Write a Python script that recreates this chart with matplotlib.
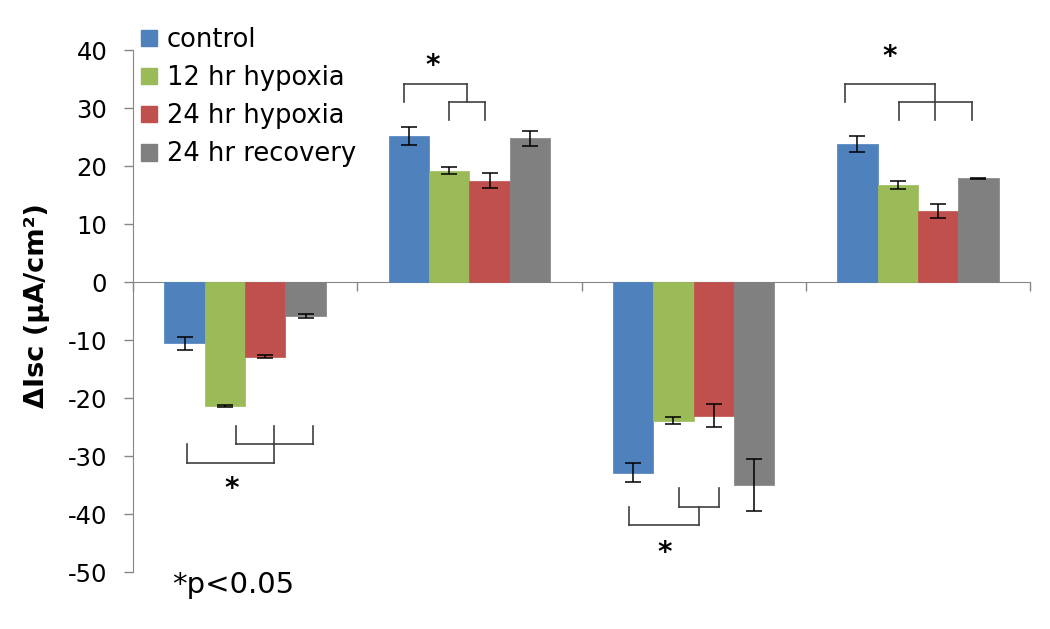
import matplotlib
matplotlib.use("Agg")
import matplotlib.pyplot as plt
import numpy as np
from matplotlib.patches import Patch

# ---------------- data ----------------
groups = ["1", "2", "3", "4"]
series = ["control", "12 hr hypoxia", "24 hr hypoxia", "24 hr recovery"]
colors = ["#4F81BD", "#9BBB59", "#C0504D", "#808080"]

control = [-10.5, 25.2, -32.8, 23.9]
hyp12 = [-21.3, 19.2, -23.9, 16.7]
hyp24 = [-12.8, 17.5, -23.0, 12.3]
recovery = [-5.8, 24.8, -35.0, 17.9]

control_err = [1.1, 1.5, 1.6, 1.4]
hyp12_err = [0.2, 0.6, 0.6, 0.7]
hyp24_err = [0.3, 1.3, 2.0, 1.2]
recovery_err = [0.3, 1.3, 4.5, 0.05]

yticks = [-50, -40, -30, -20, -10, 0, 10, 20, 30, 40]

# significance brackets:
# (x_left, x_right, y_bar, y_leg_left, y_leg_right, x_stem, y_stem_end)
brackets = [
    # group 1
    (-0.259, 0.129, -31.2, -27.9, -27.9, None, None),
    (-0.041, 0.303, -27.9, -24.7, -24.7, 0.129, -24.7),
    # group 2
    (0.707, 0.989, 34.2, 31.1, 31.1, None, None),
    (0.908, 1.071, 31.1, 27.9, 27.9, None, None),
    # group 3
    (1.710, 2.024, -41.8, -38.7, -38.7, None, None),
    (1.933, 2.114, -38.7, -35.5, -35.5, None, None),
    # group 4
    (2.676, 3.078, 34.2, 31.1, 31.1, None, None),
    (2.915, 3.240, 31.1, 28.0, 28.0, 3.078, 28.0),
]
star_x = [-0.059, 0.838, 1.872, 2.873]
star_y = [-34.6, 38.3, -45.6, 39.8]

# ---------------- figure ----------------
plt.rcParams['font.family'] = ['DejaVu Sans']
fig = plt.figure(figsize=(10.5, 6.29), dpi=100)
ax = fig.add_axes([133 / 1050, 1 - 572.3 / 629, (1030 - 133) / 1050, (572.3 - 50.3) / 629])

values = [control, hyp12, hyp24, recovery]
errs = [control_err, hyp12_err, hyp24_err, recovery_err]
x = np.arange(len(groups))
w = 0.18
offsets = [-1.5, -0.5, 0.5, 1.5]
for vals, er, col, off, lab in zip(values, errs, colors, offsets, series):
    ax.bar(x + off * w, vals, width=w, color=col, label=lab, zorder=2,
           edgecolor=col, linewidth=0.5)
    ax.errorbar(x + off * w, vals, yerr=er, fmt='none', ecolor='black',
                elinewidth=1.1, capsize=6, capthick=1.1, zorder=3)

lc = '#404040'
lw = 1.2
for (xl, xr, yb, yll, ylr, xs, yse) in brackets:
    ax.plot([xl, xr], [yb, yb], color=lc, lw=lw, zorder=3, solid_capstyle='projecting')
    ax.plot([xl, xl], [yb, yll], color=lc, lw=lw, zorder=3)
    ax.plot([xr, xr], [yb, ylr], color=lc, lw=lw, zorder=3)
    if xs is not None:
        ax.plot([xs, xs], [yb, yse], color=lc, lw=lw, zorder=3)

for sx, sy in zip(star_x, star_y):
    ax.annotate("*", (sx, sy), xytext=(0, -6), textcoords='offset pixels',
                fontsize=20, fontweight='bold', ha='center', va='center',
                color='black')

ax.set_xlim(-0.5, 3.5)
ax.set_ylim(-50, 40)
ax.set_yticks(yticks)
ax.set_yticklabels([str(t) for t in yticks], fontsize=17.5)
ax.tick_params(axis='y', length=6.5, color='#868686', width=1, pad=12)

ax.spines['top'].set_visible(False)
ax.spines['right'].set_visible(False)
ax.spines['bottom'].set_position(('data', 0))
ax.spines['bottom'].set_color('#868686')
ax.spines['left'].set_color('#868686')
ax.spines['bottom'].set_zorder(1)
ax.set_xticks([-0.5, 0.5, 1.5, 2.5, 3.5])
ax.set_xticklabels([])
ax.tick_params(axis='x', length=6.5, color='#868686', width=1, direction='out')

ax.set_ylabel("ΔIsc (μA/cm²)", fontsize=19.5, fontweight='bold')
ax.yaxis.label.set_va('center')
ax.yaxis.set_label_coords(37 / 1050, 1 - 306 / 629, transform=fig.transFigure)

handles = [Patch(facecolor=c, edgecolor=c) for c in colors]
ax.legend(handles, series, loc='upper left', bbox_to_anchor=(141 / 1050, 1 - 27 / 629),
          bbox_transform=fig.transFigure, frameon=False, fontsize=18.5,
          handlelength=0.62, handleheight=0.62, handletextpad=0.38,
          labelspacing=0.47, borderaxespad=0, borderpad=0)

fig.text(172 / 1050, 1 - 585 / 629, "*p<0.05", fontsize=21, ha='left', va='center')

fig.savefig("out.png", dpi=100)
